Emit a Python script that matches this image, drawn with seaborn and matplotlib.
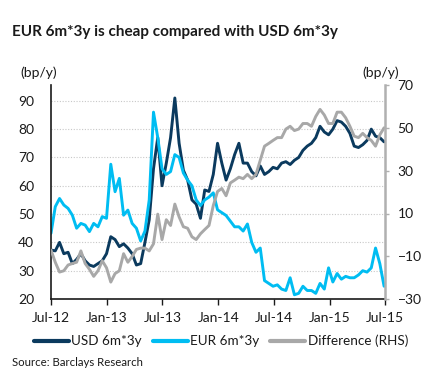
"""EUR vs USD 6m*3y chart, recreated with seaborn."""

import pandas as pd
import matplotlib
matplotlib.use("Agg")
import matplotlib.pyplot as plt
import matplotlib.dates as mdates
import seaborn as sns

# biweekly observations, Jul-12 .. Jul-15
dates = pd.date_range("2012-07-01", periods=79, freq="14D")

usd = [37.3, 37.0, 40.0, 36.0, 36.5, 32.5, 34.0, 36.0, 33.5, 32.0,
       31.5, 32.5, 33.5, 36.0, 42.0, 41.0, 38.5, 39.5, 38.0, 36.0,
       32.0, 32.5, 40.0, 48.0, 66.0, 77.0, 60.0, 68.0, 77.0, 91.0,
       75.0, 65.5, 62.0, 55.0, 53.5, 48.5, 58.5, 58.0, 64.0, 75.0,
       68.0, 62.0, 66.0, 71.0, 75.0, 68.0, 68.0, 65.0, 63.5, 67.0,
       64.0, 65.0, 66.5, 66.0, 68.0, 68.5, 67.5, 69.0, 70.0, 72.5,
       74.0, 75.0, 77.0, 81.0, 79.0, 78.0, 80.0, 83.0, 82.5, 81.0,
       78.5, 74.0, 73.5, 74.5, 76.0, 80.0, 77.5, 77.0, 75.5]

eur = [43.2, 52.6, 55.5, 53.2, 52.0, 49.6, 45.0, 46.7, 46.1, 43.8,
       46.7, 45.5, 49.1, 48.5, 67.6, 57.9, 62.6, 49.6, 51.4, 46.7,
       45.0, 40.5, 44.0, 55.0, 86.0, 77.0, 66.0, 64.0, 65.0, 71.0,
       70.0, 64.5, 62.0, 60.0, 55.0, 53.0, 55.0, 56.0, 57.5, 51.5,
       50.5, 49.5, 47.5, 45.5, 45.5, 44.0, 46.5, 40.0, 36.5, 38.0,
       26.5, 25.5, 24.5, 25.0, 23.5, 23.0, 27.5, 21.5, 22.0, 24.5,
       23.0, 23.0, 22.0, 25.5, 23.5, 31.0, 26.0, 29.0, 27.0, 28.0,
       27.5, 27.5, 28.5, 30.0, 29.5, 31.0, 38.0, 32.5, 24.5]

# difference, right hand scale
diff = [-7.1, -12.8, -17.4, -16.8, -14.1, -13.4, -12.8, -7.5, -13.4, -16.1,
        -19.4, -16.8, -12.1, -15.4, -22.1, -18.1, -16.8, -8.8, -12.8, -10.1,
        -6.8, -6.2, -6.2, -7.5, -4.2, 9.7, -2.2, 7.1, 4.4, 14.4,
        8.4, 3.8, 3.1, -0.9, -2.2, 0.5, 2.5, 4.4, 13.7, 20.3,
        21.7, 18.3, 24.3, 25.6, 27.0, 26.3, 28.3, 26.3, 28.3, 34.9,
        41.5, 42.8, 44.2, 45.5, 45.5, 49.5, 50.8, 48.8, 49.5, 52.1,
        52.1, 50.8, 55.4, 58.7, 56.1, 52.1, 52.1, 57.4, 57.4, 54.8,
        50.8, 46.2, 45.5, 47.5, 45.5, 44.2, 41.5, 46.8, 50.1]

left_ticks = [20, 30, 40, 50, 60, 70, 80, 90]
right_ticks = [-30, -10, 10, 30, 50, 70]

NAVY = "#0b3a5e"
SKY = "#00bdf2"
GREY = "#a8a8a8"
DARK = "#1a1a1a"

df = pd.DataFrame({"date": dates, "USD 6m*3y": usd, "EUR 6m*3y": eur,
                   "Difference (RHS)": diff})

sns.set_theme(style="white")
plt.rcParams["font.family"] = ["Lato", "DejaVu Sans"]

fig = plt.figure(figsize=(4.33, 3.83), dpi=100)
ax = fig.add_axes([51 / 433, 1 - 299 / 383, 334 / 433, (299 - 85.25) / 383])
ax2 = ax.twinx()

sns.lineplot(data=df, x="date", y="USD 6m*3y", ax=ax, color=NAVY, lw=2.1,
             label="USD 6m*3y", legend=False)
sns.lineplot(data=df, x="date", y="EUR 6m*3y", ax=ax, color=SKY, lw=2.1,
             label="EUR 6m*3y", legend=False)
sns.lineplot(data=df, x="date", y="Difference (RHS)", ax=ax2, color=GREY,
             lw=2.1, label="Difference (RHS)", legend=False)

ax.set_xlim(pd.Timestamp("2012-07-01"), pd.Timestamp("2015-07-01"))
ax.set_ylim(20, 95.5)
ax2.set_ylim(-30, 70)
ax.set_yticks(left_ticks)
ax2.set_yticks(right_ticks)
ax.set_xlabel("")
ax.set_ylabel("")
ax2.set_ylabel("")

ax.xaxis.set_major_locator(mdates.MonthLocator(bymonth=[1, 7]))
ax.xaxis.set_major_formatter(mdates.DateFormatter("%b-%y"))

ax.grid(axis="y", color="#c8c8c8", linestyle=(0, (1, 1.5)), lw=0.8)
ax.set_axisbelow(True)

for a in (ax, ax2):
    a.spines["top"].set_visible(False)
ax.spines["right"].set_visible(False)
ax2.spines["left"].set_visible(False)
ax2.spines["bottom"].set_visible(False)
ax.spines["left"].set_color(DARK)
ax.spines["left"].set_linewidth(1.2)
ax.spines["bottom"].set_color(DARK)
ax.spines["bottom"].set_linewidth(1.2)
ax2.spines["right"].set_color("#b0b0b0")
ax2.spines["right"].set_linewidth(1.8)

ax.tick_params(axis="y", left=False, labelsize=10, colors=DARK, pad=6)
ax.tick_params(axis="x", bottom=True, direction="out", length=4, width=1,
               labelsize=10, colors=DARK, pad=5)
ax2.tick_params(axis="y", right=True, direction="out", length=3, width=1,
                color="#b0b0b0", labelsize=10, labelcolor=DARK, pad=6)

fig.text(12 / 433, 1 - 32 / 383, "EUR 6m*3y is cheap compared with USD 6m*3y",
         fontsize=11, fontweight="bold", color=DARK, va="center")
fig.text(20 / 433, 1 - 73 / 383, "(bp/y)", fontsize=10, color=DARK, va="center")
fig.text(362 / 433, 1 - 73 / 383, "(bp/y)", fontsize=10, color=DARK, va="center")
fig.text(12 / 433, 1 - 363 / 383, "Source: Barclays Research", fontsize=8.2,
         color=DARK, va="center")

handles = ax.get_lines()[:2] + ax2.get_lines()[:1]
fig.legend(handles=handles, labels=["USD 6m*3y", "EUR 6m*3y", "Difference (RHS)"],
           loc="center", bbox_to_anchor=(221 / 433, 1 - 341 / 383), ncol=3,
           frameon=False, fontsize=9.7, handlelength=2.6, handletextpad=0.2,
           columnspacing=0.8, labelcolor=DARK)
for line in fig.legends[0].get_lines():
    line.set_linewidth(3)

fig.savefig("out.png", dpi=100, facecolor="white")
plt.close(fig)
